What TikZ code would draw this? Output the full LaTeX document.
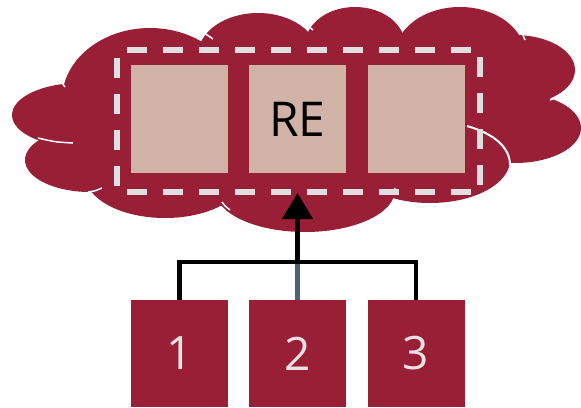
\documentclass[tikz,border=0pt]{standalone}
\usepackage{fontspec}
\setmainfont{Open Sans}
\usepackage{tikz}
\usetikzlibrary{calc}
\usetikzlibrary{arrows.meta}
\definecolor{cloudred}{rgb}{0.6,0.12,0.21}
\definecolor{boxtan}{rgb}{0.82,0.7,0.65}
\definecolor{dashgray}{rgb}{0.88,0.88,0.88}
\definecolor{digitgray}{rgb}{0.92,0.89,0.89}
\definecolor{linkblue}{rgb}{0.31,0.38,0.47}
\tikzset{
  rebox/.style={fill=boxtan,minimum width=97pt,minimum height=108pt,inner sep=0pt,font=\fontsize{48}{48}\selectfont},
  userbox/.style={fill=cloudred,text=digitgray,minimum width=97pt,minimum height=107pt,inner sep=0pt,font=\fontsize{46}{46}\selectfont},
  link/.style={line width=4.5pt,color=black},
  seam/.style={line width=1.5pt,color=white}
}

\begin{document}
\begin{tikzpicture}[line cap=butt,line join=miter,>={Triangle[width=30pt,length=26pt]},x=1pt,y=-1pt]
            \useasboundingbox (0,0) rectangle (581,407);
            % cloud
            \fill[cloudred] (150,100) ellipse [x radius=88, y radius=72];
            \fill[cloudred] (258,55) ellipse [x radius=60, y radius=42];
            \fill[cloudred] (355,45) ellipse [x radius=50, y radius=38];
            \fill[cloudred] (460,55) ellipse [x radius=65, y radius=48];
            \fill[cloudred] (515,70) ellipse [x radius=60, y radius=35];
            \fill[cloudred] (515,128) ellipse [x radius=66, y radius=35];
            \fill[cloudred] (430,160) ellipse [x radius=80, y radius=43];
            \fill[cloudred] (305,190) ellipse [x radius=90, y radius=42];
            \fill[cloudred] (165,175) ellipse [x radius=80, y radius=43];
            \fill[cloudred] (90,160) ellipse [x radius=65, y radius=32];
            \fill[cloudred] (80,115) ellipse [x radius=68, y radius=32];
            \fill[cloudred] (110,50) rectangle (485,185);
            \draw[seam] (200,32) .. controls (206,34) .. (213,39);
            \draw[seam] (307,25) .. controls (310,27) .. (313,30);
            \draw[seam] (398,22) .. controls (402,19) .. (407,17);
            \draw[seam] (523,35) -- (525,40);
            \draw[seam] (550,100) .. controls (562,95) .. (573,86);
            \draw[seam,line width=2pt] (467,126) .. controls (495,134) and (510,148) .. (510,165);
            \draw[seam] (395,188) -- (393,194);
            \draw[seam] (222,202) .. controls (225,206) .. (230,210);
            \draw[seam] (88,192) .. controls (95,191) .. (102,188);
            \draw[seam] (38,138) .. controls (55,142) .. (73,143);
            \draw[seam] (62,83) -- (65,87);
            % dashed frame
            \draw[line width=6pt,color=dashgray,dash pattern=on 20pt off 16pt,dash phase=28pt] (117,50) rectangle (480,192);
            \node[rebox] (re1) at (179.5,119) {};
            \node[rebox] (re2) at (297.5,119) {RE};
            \node[rebox] (re3) at (416,119) {};
            % users
            \node[userbox] (u1) at (179.5,353.5) {1};
            \node[userbox] (u2) at (297.5,353.5) {2};
            \node[userbox] (u3) at (416,353.5) {3};
            \coordinate (busmid) at (297.5,262);
            \coordinate (retip) at (297.5,193);
            \draw[link] (u1.north) -- (u1.north |- busmid) -- (u3.north |- busmid) -- (u3.north);
            \draw[line width=4.5pt,color=linkblue] (u2.north) -- (busmid);
            \draw[link,->] ($(busmid)+(0,2.25)$) -- (retip);
\end{tikzpicture}
\end{document}
